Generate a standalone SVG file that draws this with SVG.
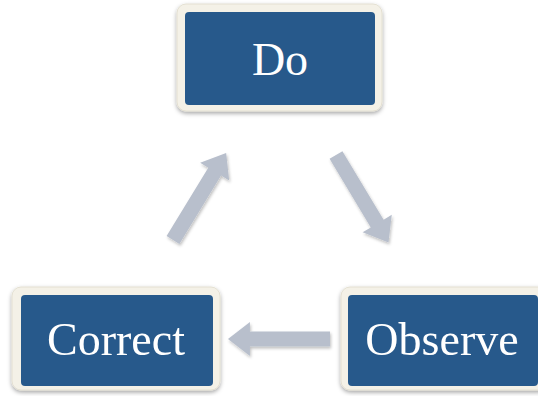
<svg xmlns="http://www.w3.org/2000/svg" width="538" height="396" viewBox="0 0 538 396">
<defs>
<filter id="sh" x="-10%" y="-10%" width="120%" height="125%">
<feGaussianBlur in="SourceAlpha" stdDeviation="2"/>
<feOffset dx="0" dy="2" result="b"/>
<feFlood flood-color="#000" flood-opacity="0.35"/>
<feComposite in2="b" operator="in"/>
<feMerge><feMergeNode/><feMergeNode in="SourceGraphic"/></feMerge>
</filter>
<filter id="ash" x="-20%" y="-20%" width="140%" height="140%">
<feGaussianBlur in="SourceAlpha" stdDeviation="1.5"/>
<feOffset dx="1" dy="2" result="b"/>
<feFlood flood-color="#000" flood-opacity="0.25"/>
<feComposite in2="b" operator="in"/>
<feMerge><feMergeNode/><feMergeNode in="SourceGraphic"/></feMerge>
</filter>
<polygon id="arr" points="0,-7.5 80,-7.5 80,-17 102,0 80,17 80,7.5 0,7.5"/>
</defs>
<style>
.frame{fill:#f4f1e7;stroke:#e4e0d2;stroke-width:1}
.box{fill:#27598b}
.lbl{font-family:"Liberation Serif","Times New Roman",serif;font-size:46px;fill:#ffffff;text-anchor:middle}
.a{fill:#b8bfcc}
</style>
<g id="connectors" filter="url(#ash)">
<use href="#arr" class="a" transform="translate(173,240) rotate(-58.6)"/>
<use href="#arr" class="a" transform="translate(336,155) rotate(59)"/>
<use href="#arr" class="a" transform="translate(330,339) rotate(180)"/>
</g>
<g id="do">
<rect class="frame" x="177" y="4" width="205" height="107" rx="9" filter="url(#sh)"/>
<rect class="box" x="185" y="12" width="190" height="93" rx="4"/>
<text class="lbl" x="280" y="75">Do</text>
</g>
<g id="correct">
<rect class="frame" x="12" y="287" width="208" height="103" rx="9" filter="url(#sh)"/>
<rect class="box" x="21" y="295" width="192" height="91" rx="4"/>
<text class="lbl" x="116" y="355">Correct</text>
</g>
<g id="observe">
<rect class="frame" x="341" y="287" width="208" height="103" rx="9" filter="url(#sh)"/>
<rect class="box" x="348" y="295" width="190" height="91" rx="4"/>
<text class="lbl" x="442" y="355">Observe</text>
</g>
</svg>
